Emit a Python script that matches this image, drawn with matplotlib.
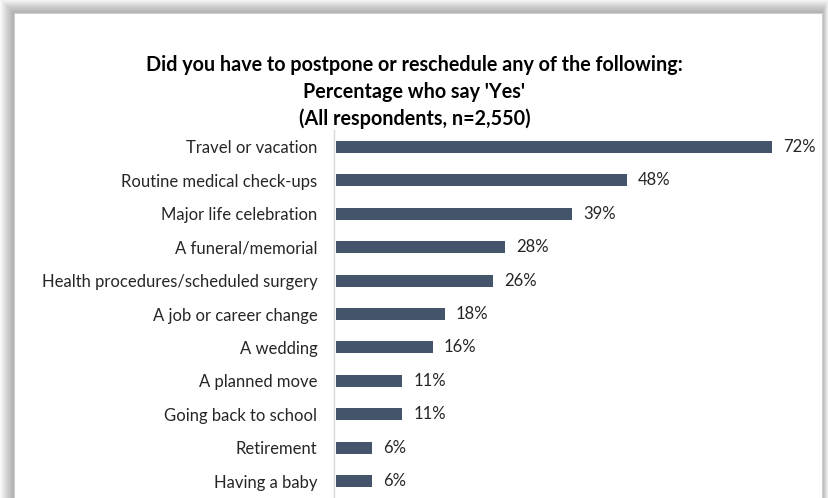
import matplotlib.pyplot as plt
from matplotlib.patches import Rectangle

categories = [
    "Travel or vacation",
    "Routine medical check-ups",
    "Major life celebration",
    "A funeral/memorial",
    "Health procedures/scheduled surgery",
    "A job or career change",
    "A wedding",
    "A planned move",
    "Going back to school",
    "Retirement",
    "Having a baby",
]
values = [72, 48, 39, 28, 26, 18, 16, 11, 11, 6, 6]
title_lines = [
    "Did you have to postpone or reschedule any of the following:",
    "Percentage who say 'Yes'",
    "(All respondents, n=2,550)",
]

W, H = 829, 498
bar_color = "#44546A"
plt.rcParams['font.family'] = ['Lato', 'DejaVu Sans']

fig = plt.figure(figsize=(W / 100, H / 100), dpi=100)
fig.patch.set_facecolor("white")

# soft drop shadow around the chart panel (pixel coords -> figure fraction)
def px_rect(x0, y0, x1, y1, **kw):
    return Rectangle((x0 / W, 1 - y1 / H), (x1 - x0) / W, (y1 - y0) / H,
                     transform=fig.transFigure, zorder=-10, **kw)

for k in range(14, 0, -1):
    fig.patches.append(px_rect(14 - k, 13 - k, 822 + k * 0.5, H + 20,
                               facecolor="#000000", alpha=0.022, lw=0))
fig.patches.append(px_rect(14, 13, 822, H + 20, facecolor="white",
                           edgecolor="#cfcfcf", lw=0.8))

ax = fig.add_axes([334 / W, 0, 455 / W, (H - 130) / H])
ax.set_facecolor("none")
y = range(len(categories))
ax.barh(y, values, left=0.25, height=0.36, color=bar_color)
ax.set_xlim(0, 75)
ax.set_ylim(len(categories) - 0.5, -0.5)

for yi, v in zip(y, values):
    ax.annotate(f"{v}%", (v + 0.25, yi), xytext=(8, 0), textcoords="offset points",
                ha="left", va="center", fontsize=12, color="#262626")

ax.set_yticks(list(y))
ax.set_yticklabels(categories, fontsize=12, color="#262626")
ax.tick_params(axis="y", length=0, pad=12)
ax.set_xticks([])
for s in ["top", "right", "bottom"]:
    ax.spines[s].set_visible(False)
ax.spines["left"].set_color("#d9d9d9")
ax.spines["left"].set_linewidth(1.0)

for i, line in enumerate(title_lines):
    fig.text(0.5, 1 - (65 + 27 * i) / H, line, ha="center", va="center",
             fontsize=14.2, fontweight="bold", color="black")

fig.savefig("out.png", dpi=100)
